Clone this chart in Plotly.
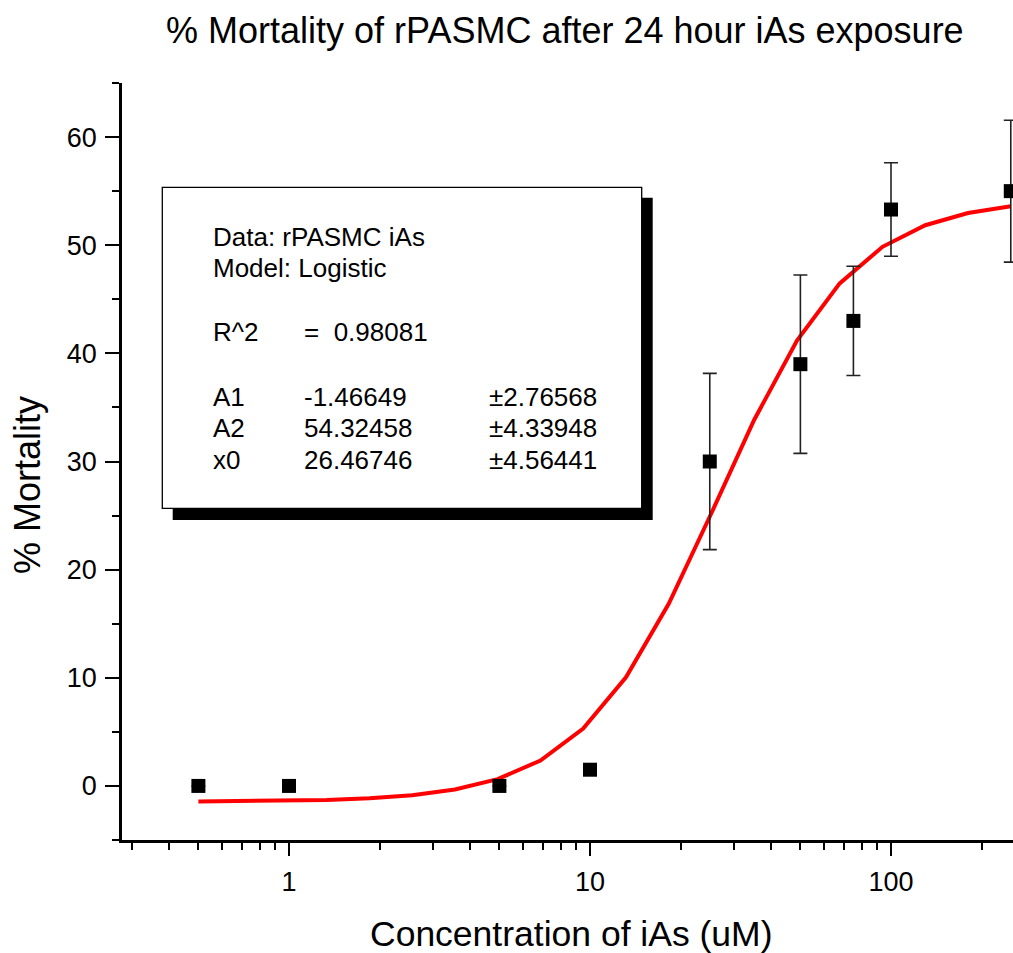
import plotly.graph_objects as go

# ---- data ----
conc = [0.5, 1, 5, 10, 25, 50, 75, 100, 250]
mortality = [0, 0, 0, 1.5, 30.0, 39.0, 43.0, 53.3, 55.0]
mortality_err = [None, None, None, None, 8.15, 8.25, 5.05, 4.32, 6.56]

fit_x = [0.5, 0.6935, 0.9618, 1.3342, 1.8504, 2.5664, 3.5588, 4.9355, 6.845, 9.493,
         13.166, 18.261, 25.327, 35.13, 48.71, 67.54, 93.70, 129.96, 180.25, 250]
fit_y = [-1.44, -1.42, -1.37, -1.29, -1.14, -0.86, -0.33, 0.63, 2.35, 5.31,
         10.04, 16.84, 25.24, 33.86, 41.18, 46.47, 49.85, 51.85, 52.98, 53.60]

x_major_ticks = [1, 10, 100]
x_major_text = ["1", "10", "100"]
x_minor_ticks = [0.3, 0.4, 0.5, 0.6, 0.7, 0.8, 0.9, 2, 3, 4, 5, 6, 7, 8, 9,
                 20, 30, 40, 50, 60, 70, 80, 90, 200]
y_major_ticks = [0, 10, 20, 30, 40, 50, 60]

title_text = "% Mortality of rPASMC after 24 hour iAs exposure"
x_title = "Concentration of iAs (uM)"
y_title = "% Mortality"

box_rows = [
    ("Data: rPASMC iAs", "", ""),
    ("Model: Logistic", "", ""),
    ("R^2", "=  0.98081", ""),
    ("A1", "-1.46649", "±2.76568"),
    ("A2", "54.32458", "±4.33948"),
    ("x0", "26.46746", "±4.56441"),
]

# ---- layout geometry (page pixels; body margin removed below) ----
W, H = 1013, 953
L, R, T, B = 122, 0, 83, 953 - 840
PW, PH = W - L - R, H - T - B


def px(x):
    """page pixel x -> paper coordinate"""
    return (x - L) / PW


def py(y):
    """page pixel y -> paper coordinate"""
    return (H - B - y) / PH


FONT = "Liberation Sans, Arial, sans-serif"

fig = go.Figure()

fig.add_trace(go.Scatter(
    x=fit_x, y=fit_y, mode="lines",
    line=dict(color="#ff0000", width=4),
    showlegend=False, hoverinfo="skip",
))

fig.add_trace(go.Scatter(
    x=conc, y=mortality, mode="markers",
    marker=dict(symbol="square", size=14, color="black", line=dict(width=0)),
    error_y=dict(type="data", array=mortality_err, visible=True,
                 color="#222222", thickness=1.6, width=7),
    cliponaxis=False,
    showlegend=False,
))

fig.update_xaxes(
    type="log", range=[-0.5548, 2.4053],
    tickmode="array", tickvals=x_major_ticks, ticktext=x_major_text,
    ticks="outside", ticklen=13, tickwidth=2, tickcolor="black",
    minor=dict(tickmode="array", tickvals=x_minor_ticks, ticks="outside",
               ticklen=7, tickwidth=2, tickcolor="black", showgrid=False),
    showline=True, linecolor="black", linewidth=2.5, mirror=False,
    showgrid=False, zeroline=False,
    ticklabelstandoff=3,
    tickfont=dict(family=FONT, size=27, color="black"),
)
fig.update_yaxes(
    range=[-5, 65],
    tickmode="array", tickvals=y_major_ticks,
    ticks="outside", ticklen=14, tickwidth=2, tickcolor="black",
    minor=dict(dtick=5, ticks="outside", ticklen=7, tickwidth=2,
               tickcolor="black", showgrid=False),
    showline=True, linecolor="black", linewidth=2.5, mirror=False,
    showgrid=False, zeroline=False,
    ticklabelstandoff=3,
    tickfont=dict(family=FONT, size=27, color="black"),
)

shapes = [
    # shadow
    dict(type="rect", xref="paper", yref="paper", layer="above",
         x0=px(172.7), x1=px(652.7), y0=py(520), y1=py(197.7),
         fillcolor="black", line=dict(width=0)),
    # box
    dict(type="rect", xref="paper", yref="paper", layer="above",
         x0=px(162.3), x1=px(641.7), y0=py(508.3), y1=py(187.3),
         fillcolor="white", line=dict(color="black", width=1.3)),
]

annotations = [
    dict(text=title_text, xref="paper", yref="paper", x=px(565), y=py(30),
         xanchor="center", yanchor="middle", showarrow=False,
         font=dict(family=FONT, size=36, color="black")),
    dict(text=x_title, xref="paper", yref="paper", x=px(571), y=py(934),
         xanchor="center", yanchor="middle", showarrow=False,
         font=dict(family=FONT, size=35.5, color="black")),
    dict(text=y_title, xref="paper", yref="paper", x=px(28), y=py(485),
         xanchor="center", yanchor="middle", showarrow=False, textangle=-90,
         font=dict(family=FONT, size=36, color="black")),
]

row_y = [236.7, 268.3, 331.7, 396.7, 428.3, 460.0]
col_x = [211, 302, 486.5]
for (c1, c2, c3), yy in zip(box_rows, row_y):
    for txt, xx in zip((c1, c2, c3), col_x):
        if txt:
            annotations.append(dict(
                text=txt, xref="paper", yref="paper", x=px(xx), y=py(yy),
                xanchor="left", yanchor="middle", showarrow=False,
                font=dict(family=FONT, size=26, color="black")))

fig.update_layout(
    width=W, height=H,
    margin=dict(l=L, r=R, t=T, b=B, pad=0),
    paper_bgcolor="white", plot_bgcolor="white",
    shapes=shapes, annotations=annotations,
    showlegend=False,
)

fig.write_html(
    "out.html",
    config={"displayModeBar": False},
    post_script=("document.body.style.margin='0';"
                 "document.body.style.overflow='hidden';"),
)
